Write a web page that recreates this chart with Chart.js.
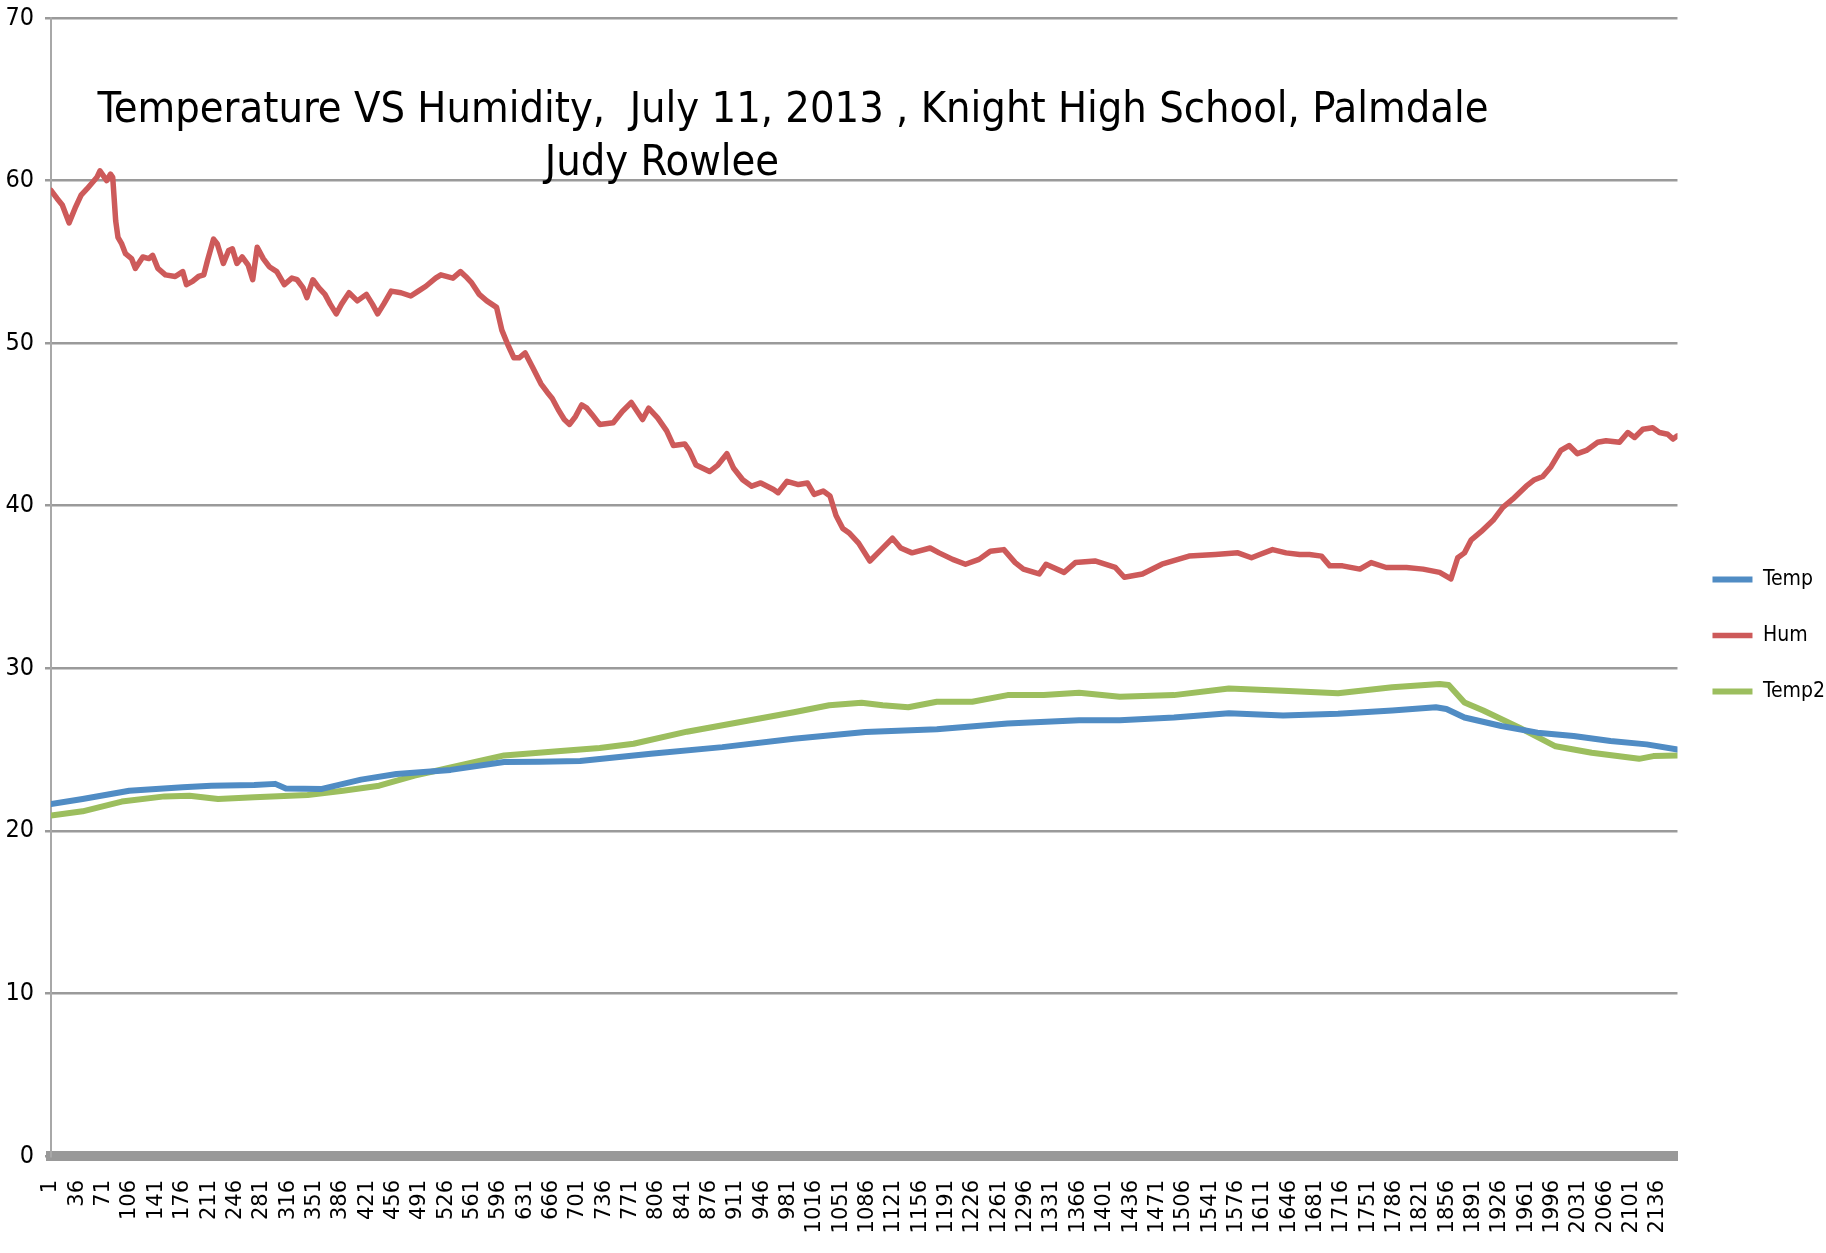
<!DOCTYPE html>
<html>
<head>
<meta charset="utf-8">
<script src="https://cdn.jsdelivr.net/npm/chart.js@4.4.1/dist/chart.umd.min.js"></script>
<style>
  html, body { margin: 0; padding: 0; background: #ffffff; }
  #wrap { width: 1826px; height: 1253px; position: relative; }
</style>
</head>
<body>
<div id="wrap"><canvas id="chart"></canvas></div>
<script>
// ---------- DATA ----------
const titleLines = ["Temperature VS Humidity,  July 11, 2013 , Knight High School, Palmdale", "Judy Rowlee"];
const seriesNames = ["Temp", "Hum", "Temp2"];

// x tick labels (sample numbers)
const xTicks = [1,36,71,106,141,176,211,246,281,316,351,386,421,456,491,526,561,596,631,666,701,736,771,806,841,876,911,946,981,1016,1051,1086,1121,1156,1191,1226,1261,1296,1331,1366,1401,1436,1471,1506,1541,1576,1611,1646,1681,1716,1751,1786,1821,1856,1891,1926,1961,1996,2031,2066,2101,2136];

// Hum (sample index, value)
const humX = [1,9,16,25,33,41,49,62,66,75,
  80,83,87,90,95,100,108,113,123,131,
  136,143,153,166,176,181,189,197,204,209,
  217,222,230,237,242,248,255,263,269,275,
  283,291,301,311,321,328,336,341,349,357,
  365,372,380,387,397,408,420,428,435,443,
  453,466,479,489,499,512,519,535,545,552,
  560,570,580,593,600,608,616,623,631,641,
  652,660,667,675,683,690,698,706,713,720,
  730,748,760,772,787,795,807,819,828,843,
  849,858,876,887,899,908,920,932,944,961,
  967,979,994,1006,1015,1027,1036,1044,1053,1062,
  1074,1089,1104,1119,1130,1145,1169,1181,1199,1216,
  1234,1249,1267,1282,1293,1314,1323,1347,1362,1388,
  1415,1427,1451,1477,1513,1548,1578,1596,1607,1624,
  1642,1660,1673,1689,1700,1717,1740,1755,1775,1802,
  1824,1846,1861,1870,1879,1888,1901,1917,1930,1943,
  1961,1972,1983,1994,2007,2018,2029,2041,2056,2067,
  2085,2096,2105,2116,2129,2138,2149,2156,2162];
const humY = [59.4,58.9,58.5,57.4,58.3,59.1,59.5,60.2,60.6,60.0,
  60.4,60.2,57.5,56.5,56.1,55.5,55.2,54.6,55.3,55.2,
  55.4,54.6,54.2,54.1,54.4,53.6,53.8,54.1,54.2,55.1,
  56.4,56.1,54.9,55.7,55.8,54.9,55.3,54.8,53.9,55.9,
  55.2,54.7,54.4,53.6,54.0,53.9,53.4,52.8,53.9,53.4,
  53.0,52.4,51.8,52.4,53.1,52.6,53.0,52.4,51.8,52.4,
  53.2,53.1,52.9,53.2,53.5,54.0,54.2,54.0,54.4,54.1,
  53.7,53.0,52.6,52.2,50.8,49.9,49.1,49.1,49.4,48.5,
  47.5,47.0,46.6,45.9,45.3,45.0,45.5,46.2,46.0,45.6,
  45.0,45.1,45.8,46.35,45.3,46.0,45.4,44.6,43.7,43.8,
  43.4,42.5,42.1,42.5,43.2,42.3,41.6,41.2,41.4,41.0,
  40.8,41.5,41.3,41.4,40.7,40.9,40.6,39.4,38.6,38.3,
  37.7,36.6,37.3,38.0,37.4,37.1,37.4,37.1,36.7,36.4,
  36.7,37.2,37.3,36.5,36.1,35.8,36.4,35.9,36.5,36.6,
  36.2,35.6,35.8,36.4,36.9,37.0,37.1,36.8,37.0,37.3,
  37.1,37.0,37.0,36.9,36.3,36.3,36.1,36.5,36.2,36.2,
  36.1,35.9,35.5,36.8,37.1,37.9,38.4,39.1,39.9,40.4,
  41.2,41.6,41.8,42.4,43.4,43.7,43.2,43.4,43.9,44.0,
  43.9,44.5,44.2,44.7,44.8,44.5,44.4,44.1,44.3];

// Temp (sample index, value)
const tempX = [1,43,105,176,214,271,299,313,361,413,460,532,603,650,704,798,893,988,1083,1178,1272,1367,1421,1493,1566,1638,1711,1783,1841,1855,1879,1928,1976,2024,2073,2121,2162];
const tempY = [21.65,21.96,22.47,22.68,22.78,22.82,22.89,22.6,22.58,23.15,23.5,23.75,24.23,24.25,24.3,24.74,25.15,25.67,26.08,26.25,26.6,26.8,26.8,26.97,27.24,27.1,27.2,27.4,27.6,27.5,26.97,26.45,26.04,25.84,25.53,25.32,25.0];

// Temp2 (sample index, value)
const temp2X = [1,43,95,152,185,223,271,342,389,437,484,532,603,674,730,775,846,917,988,1035,1078,1106,1140,1178,1225,1272,1320,1367,1421,1493,1566,1638,1711,1783,1846,1858,1879,1904,1952,2000,2048,2111,2130,2162];
const temp2Y = [20.95,21.2,21.8,22.12,22.16,21.96,22.06,22.2,22.47,22.78,23.4,23.9,24.64,24.9,25.1,25.36,26.1,26.7,27.3,27.73,27.88,27.73,27.6,27.94,27.94,28.35,28.35,28.5,28.25,28.35,28.76,28.62,28.47,28.83,29.03,28.97,27.9,27.4,26.35,25.2,24.8,24.43,24.6,24.64];

// ---------- STYLE ----------
const NARROW = "'Liberation Sans Narrow', 'DejaVu Sans Condensed', 'Liberation Sans', sans-serif";
const COLORS = { temp: '#508CC4', hum: '#CD5A5A', temp2: '#9CBE5E' };

const pts = (xs, ys) => xs.map((x, i) => ({ x: x, y: ys[i] }));

const innerTitle = {
  id: 'innerTitle',
  afterDatasetsDraw(chart) {
    const ctx = chart.ctx;
    ctx.save();
    ctx.fillStyle = '#000000';
    ctx.textAlign = 'center';
    ctx.textBaseline = 'alphabetic';
    let size = 50;
    ctx.font = size + 'px ' + NARROW;
    const w = ctx.measureText(titleLines[0]).width;
    size = size * 1392 / w;
    if (size > 56) size = 56;
    ctx.font = size + 'px ' + NARROW;
    ctx.fillText(titleLines[0], 793, 122);
    ctx.fillText(titleLines[1], 662, 175);
    ctx.restore();
  }
};

const lineStyle = (color, width) => ({
  borderColor: color, backgroundColor: color, borderWidth: width,
  pointRadius: 0, pointHoverRadius: 0, tension: 0,
  borderCapStyle: 'round', borderJoinStyle: 'round', fill: false
});

new Chart(document.getElementById('chart'), {
  type: 'line',
  data: {
    datasets: [
      Object.assign({ label: seriesNames[0], data: pts(tempX, tempY) }, lineStyle(COLORS.temp, 6)),
      Object.assign({ label: seriesNames[1], data: pts(humX, humY) }, lineStyle(COLORS.hum, 5.5)),
      Object.assign({ label: seriesNames[2], data: pts(temp2X, temp2Y) }, lineStyle(COLORS.temp2, 6))
    ]
  },
  options: {
    responsive: true,
    maintainAspectRatio: false,
    animation: false,
    devicePixelRatio: 1,
    layout: { padding: { top: 18, right: -9, left: 0, bottom: 0 } },
    plugins: {
      legend: {
        position: 'right',
        labels: {
          usePointStyle: true, pointStyle: 'line', pointStyleWidth: 40,
          padding: 35, color: '#000000',
          font: { family: NARROW, size: 21 }
        }
      },
      title: { display: false },
      tooltip: { enabled: false }
    },
    scales: {
      x: {
        type: 'linear', min: 1, max: 2162,
        grid: { display: false, drawTicks: false },
        border: { display: true, color: '#999999', width: 10 },
        ticks: {
          autoSkip: false, minRotation: 90, maxRotation: 90, padding: 24,
          color: '#000000', font: { family: 'DejaVu Sans', size: 21 },
          callback: (v) => String(v)
        },
        afterBuildTicks: (axis) => { axis.ticks = xTicks.map(v => ({ value: v })); },
        afterFit: (s) => { s.height = 97; }
      },
      y: {
        min: 0, max: 70,
        ticks: { stepSize: 10, padding: 11, color: '#000000', font: { family: NARROW, size: 25 } },
        grid: { color: '#9a9a9a', lineWidth: 2.5, tickLength: 6, drawTicks: true },
        border: { display: true, color: '#a8a8a8', width: 2 },
        afterFit: (s) => { s.width = 51; s.paddingTop = 0; s.paddingBottom = 0; }
      }
    }
  },
  plugins: [innerTitle]
});
</script>
</body>
</html>
